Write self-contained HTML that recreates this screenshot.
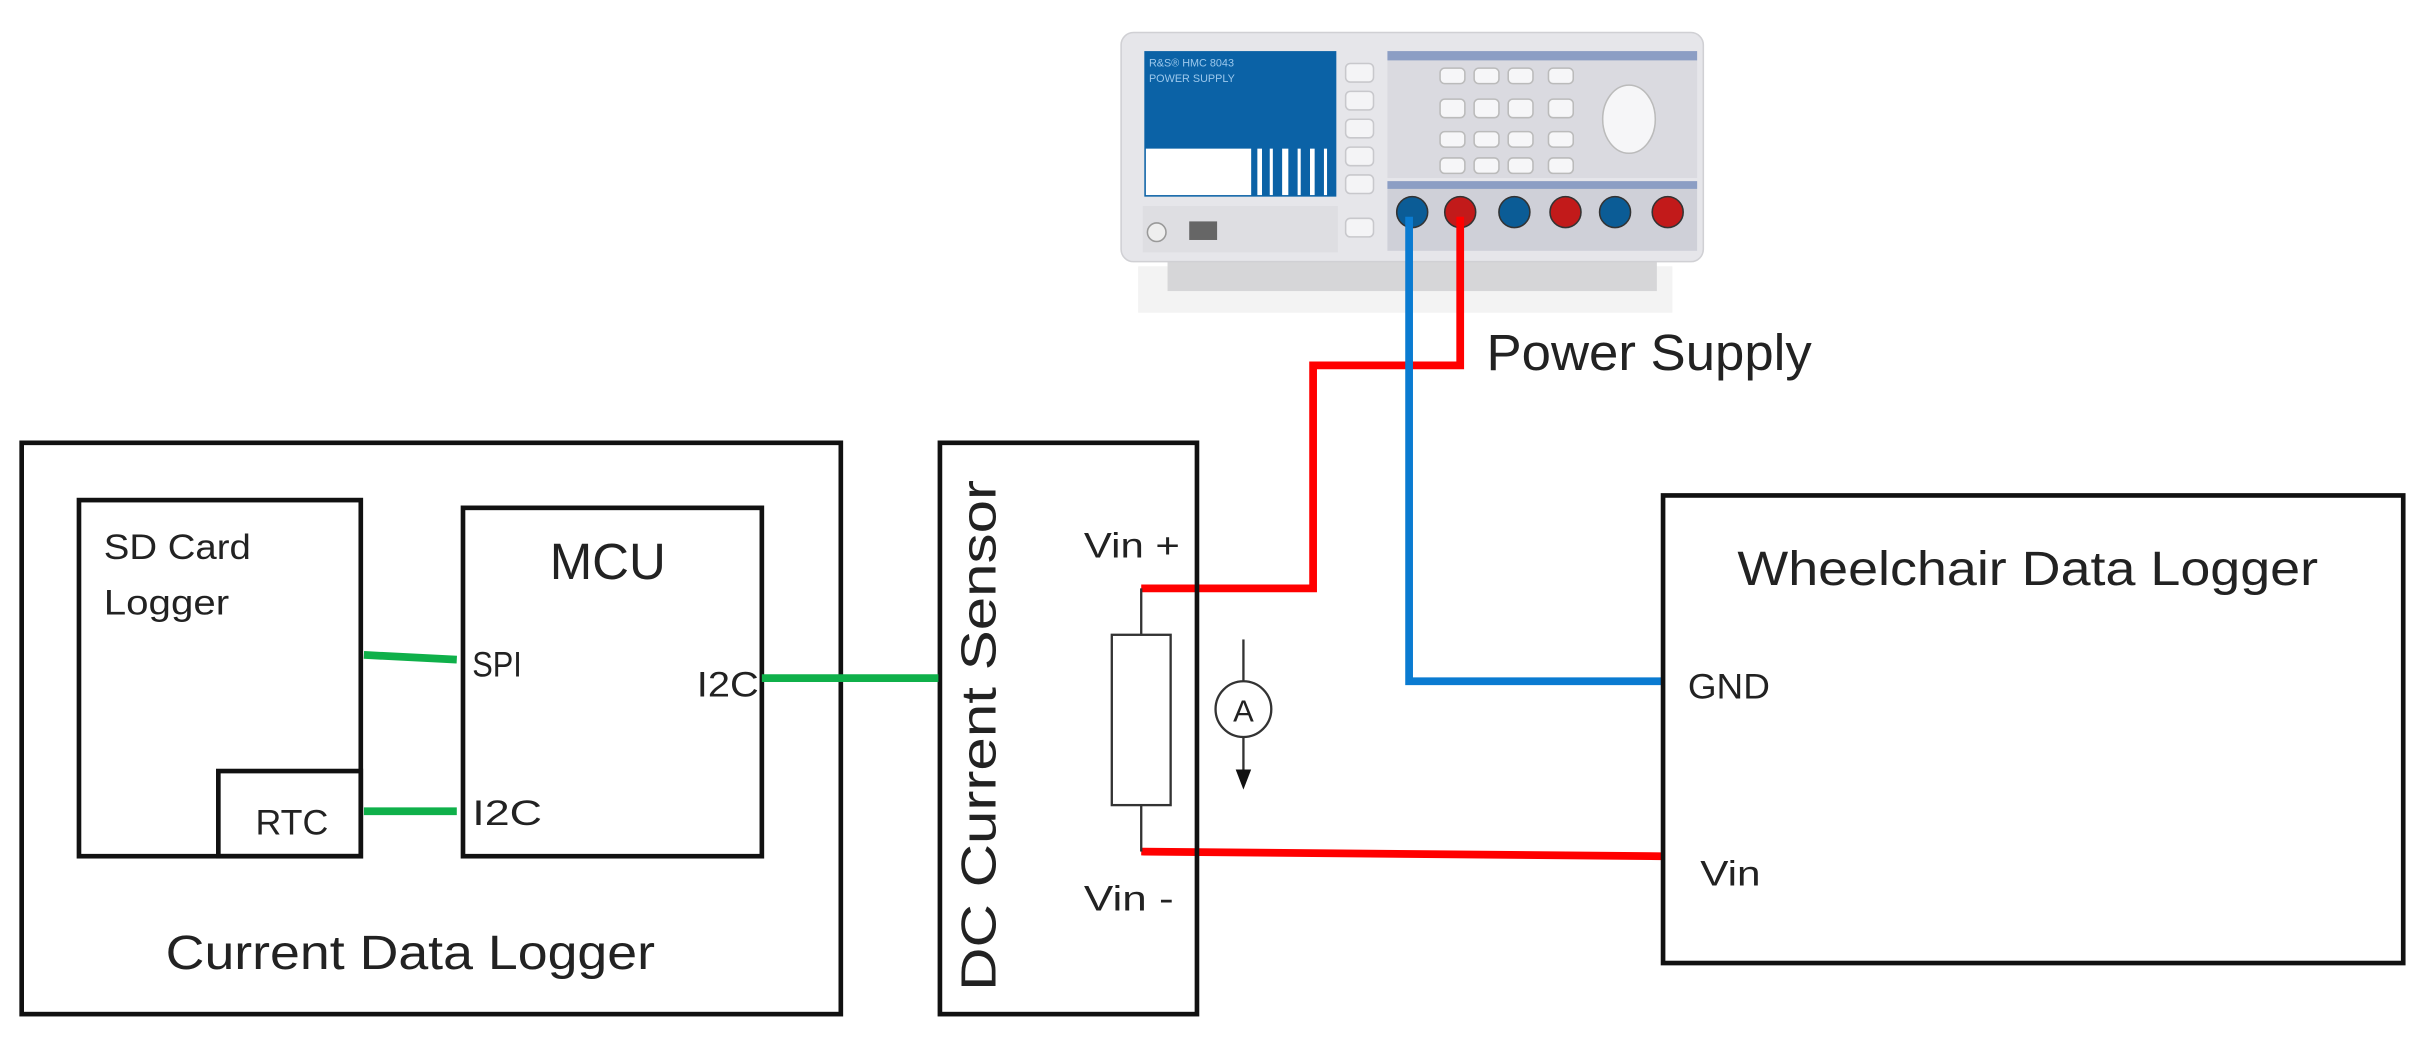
<!DOCTYPE html>
<html><head><meta charset="utf-8"><style>
html,body{margin:0;padding:0;background:#fff;}
svg{display:block;}
text{font-family:"Liberation Sans","DejaVu Sans",sans-serif;fill:#222;}
</style></head><body>
<svg width="2428" height="1042" viewBox="0 0 1568 673" preserveAspectRatio="none" xmlns="http://www.w3.org/2000/svg">
<rect width="1568" height="673" fill="#fff"/>
<!-- Power supply -->
<rect x="735" y="172" width="345" height="30" fill="#f3f3f3"/>
<rect x="754" y="168" width="316" height="20" fill="#d6d6d8"/>
<rect x="724" y="21" width="376" height="148" rx="8" fill="#e6e6ea" stroke="#d0d0d4"/>
<rect x="739" y="33" width="124" height="94" fill="#0b62a6"/>
<rect x="740" y="96" width="68" height="30" fill="#fff"/>
<g fill="#fff"><rect x="812" y="96" width="3" height="30"/><rect x="820" y="96" width="2" height="30"/><rect x="828" y="96" width="4" height="30"/><rect x="838" y="96" width="2" height="30"/><rect x="846" y="96" width="3" height="30"/><rect x="855" y="96" width="2" height="30"/></g>
<text x="742" y="43" font-size="7" style="fill:#9cc8ec">R&amp;S® HMC 8043</text>
<text x="742" y="53" font-size="7" style="fill:#9cc8ec">POWER SUPPLY</text>
<rect x="738" y="133" width="126" height="30" fill="#dedee2"/>
<circle cx="747" cy="150" r="6" fill="#eee" stroke="#999"/>
<rect x="768" y="143" width="18" height="12" fill="#666"/>
<g fill="#f4f4f6" stroke="#c8c8cc"><rect x="869" y="41" width="18" height="12" rx="3"/><rect x="869" y="59" width="18" height="12" rx="3"/><rect x="869" y="77" width="18" height="12" rx="3"/><rect x="869" y="95" width="18" height="12" rx="3"/><rect x="869" y="113" width="18" height="12" rx="3"/><rect x="869" y="141" width="18" height="12" rx="3"/></g>
<rect x="896" y="33" width="200" height="82" fill="#dadae0"/>
<rect x="896" y="33" width="200" height="6" fill="#8c9ec4"/>
<g fill="#f6f6f8" stroke="#bbb"><rect x="930" y="44" width="16" height="10" rx="3"/><rect x="952" y="44" width="16" height="10" rx="3"/><rect x="974" y="44" width="16" height="10" rx="3"/><rect x="1000" y="44" width="16" height="10" rx="3"/>
<rect x="930" y="64" width="16" height="12" rx="3"/><rect x="952" y="64" width="16" height="12" rx="3"/><rect x="974" y="64" width="16" height="12" rx="3"/><rect x="1000" y="64" width="16" height="12" rx="3"/>
<rect x="930" y="85" width="16" height="10" rx="3"/><rect x="952" y="85" width="16" height="10" rx="3"/><rect x="974" y="85" width="16" height="10" rx="3"/><rect x="1000" y="85" width="16" height="10" rx="3"/>
<rect x="930" y="102" width="16" height="10" rx="3"/><rect x="952" y="102" width="16" height="10" rx="3"/><rect x="974" y="102" width="16" height="10" rx="3"/><rect x="1000" y="102" width="16" height="10" rx="3"/>
<ellipse cx="1052" cy="77" rx="17" ry="22"/></g>
<rect x="896" y="117" width="200" height="45" fill="#cfd0d8"/>
<rect x="896" y="117" width="200" height="5" fill="#8c9ec4"/>
<g stroke="#333" stroke-width="1"><circle cx="912" cy="137" r="10" fill="#0b5c96"/><circle cx="943" cy="137" r="10" fill="#c21a1a"/><circle cx="978" cy="137" r="10" fill="#0b5c96"/><circle cx="1011" cy="137" r="10" fill="#c21a1a"/><circle cx="1043" cy="137" r="10" fill="#0b5c96"/><circle cx="1077" cy="137" r="10" fill="#c21a1a"/></g>
<text x="960" y="239" font-size="33" textLength="210" lengthAdjust="spacingAndGlyphs">Power Supply</text>
<!-- wires -->
<polyline points="943,140 943,236 848,236 848,380 737,380" fill="none" stroke="#f00" stroke-width="5"/>
<polyline points="910,140 910,440 1073,440" fill="none" stroke="#0a7bd1" stroke-width="5"/>
<line x1="737" y1="550" x2="1073" y2="553" stroke="#f00" stroke-width="5"/>
<!-- boxes -->
<g fill="none" stroke="#111" stroke-width="3">
<rect x="14" y="286" width="529" height="369"/>
<rect x="51" y="323" width="182" height="230"/>
<rect x="141" y="498" width="92" height="55"/>
<rect x="299" y="328" width="193" height="225"/>
<rect x="607" y="286" width="166" height="369"/>
<rect x="1074" y="320" width="478" height="302"/>
</g>
<g stroke="#0fb04a" stroke-width="5"><line x1="235" y1="423" x2="295" y2="426"/><line x1="235" y1="524" x2="295" y2="524"/><line x1="492" y1="438" x2="606" y2="438"/></g>
<text x="67" y="361" font-size="23" textLength="95" lengthAdjust="spacingAndGlyphs">SD Card</text>
<text x="67" y="397" font-size="23" textLength="81" lengthAdjust="spacingAndGlyphs">Logger</text>
<text x="355" y="374" font-size="33" textLength="75" lengthAdjust="spacingAndGlyphs">MCU</text>
<text x="305" y="437" font-size="23" textLength="32" lengthAdjust="spacingAndGlyphs">SPI</text>
<text x="305" y="533" font-size="23" textLength="45" lengthAdjust="spacingAndGlyphs">I2C</text>
<text x="450" y="450" font-size="23" textLength="40" lengthAdjust="spacingAndGlyphs">I2C</text>
<text x="165" y="539" font-size="23" textLength="47" lengthAdjust="spacingAndGlyphs">RTC</text>
<text x="107" y="626" font-size="31" textLength="316" lengthAdjust="spacingAndGlyphs">Current Data Logger</text>
<text transform="translate(643,640) rotate(-90)" font-size="32" textLength="330" lengthAdjust="spacingAndGlyphs">DC Current Sensor</text>
<text x="700" y="360" font-size="23" textLength="62" lengthAdjust="spacingAndGlyphs">Vin +</text>
<text x="700" y="588" font-size="23" textLength="58" lengthAdjust="spacingAndGlyphs">Vin -</text>
<!-- resistor & ammeter -->
<g stroke="#333" stroke-width="1.5" fill="none">
<line x1="737" y1="380" x2="737" y2="410"/><rect x="718" y="410" width="38" height="110"/><line x1="737" y1="520" x2="737" y2="550"/>
<line x1="803" y1="413" x2="803" y2="440"/><circle cx="803" cy="458" r="18"/><line x1="803" y1="476" x2="803" y2="500"/>
</g>
<polygon points="798,497 808,497 803,510" fill="#111"/>
<text x="803" y="466" font-size="20" text-anchor="middle">A</text>
<text x="1122" y="378" font-size="31" textLength="375" lengthAdjust="spacingAndGlyphs">Wheelchair Data Logger</text>
<text x="1090" y="451" font-size="23" textLength="53" lengthAdjust="spacingAndGlyphs">GND</text>
<text x="1098" y="572" font-size="23" textLength="39" lengthAdjust="spacingAndGlyphs">Vin</text>
</svg>
</body></html>
